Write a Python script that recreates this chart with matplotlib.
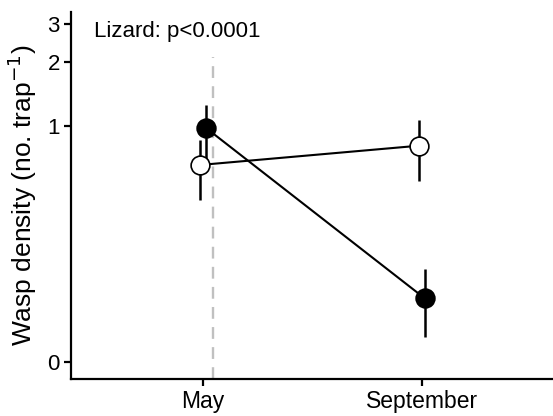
import numpy as np
import matplotlib
matplotlib.use("Agg")
import matplotlib.pyplot as plt

plt.rcParams['font.family'] = ['Liberation Sans', 'DejaVu Sans']

months = ["May", "September"]
# open circles (no lizard) and filled circles (lizard)
open_mean = [0.64, 0.80]
open_lo = [0.42, 0.53]
open_hi = [0.85, 1.07]
filled_mean = [0.98, 0.091]
filled_lo = [0.68, 0.029]
filled_hi = [1.26, 0.157]
y_ticks = [0, 1, 2, 3]
annot = "Lizard: p<0.0001"


def fwd(y):
    return np.log(np.asarray(y, dtype=float) + 0.1)


def inv(y):
    return np.exp(y) - 0.1


fig = plt.figure(figsize=(5.53, 4.16), dpi=100)
ax = fig.add_axes([0.1284, 0.0889, 0.8716, 0.882])
ax.set_yscale('function', functions=(fwd, inv))

x = np.arange(1, len(months) + 1)
dodge = 0.013

# dashed reference line, stops below the annotation
ax.axvline(1.046, ymax=0.877, color='#c0c0c0', lw=1.7, ls=(0, (5, 3.5)), zorder=1)

ax.plot(x - dodge, open_mean, color='black', lw=1.5, zorder=2)
ax.plot(x + dodge, filled_mean, color='black', lw=1.5, zorder=2)

ax.vlines(x + dodge, filled_lo, filled_hi, color='black', lw=1.8, zorder=3)
ax.vlines(x - dodge, open_lo, open_hi, color='black', lw=1.8, zorder=3)

ax.plot(x + dodge, filled_mean, 'o', ms=13.5, mfc='black', mec='black', mew=1.2,
        ls='none', zorder=4)
ax.plot(x - dodge, open_mean, 'o', ms=13.5, mfc='white', mec='black', mew=1.2,
        ls='none', zorder=5)

ax.set_xlim(0.397, 2.6)
ax.set_ylim(-0.016, 3.4)
ax.set_xticks(x)
ax.set_xticklabels(months, fontsize=16.5)
ax.set_yticks(y_ticks)
ax.set_yticklabels([str(t) for t in y_ticks], fontsize=16)
ax.minorticks_off()

for s in ['top', 'right']:
    ax.spines[s].set_visible(False)
for s in ['left', 'bottom']:
    ax.spines[s].set_linewidth(1.6)
ax.tick_params(width=1.6, length=5, pad=3, color='black')

ax.set_ylabel("Wasp density (no. trap$^{-1}$)", fontsize=19, labelpad=6)
ax.text(0.048, 0.975, annot, transform=ax.transAxes, fontsize=16,
        ha='left', va='top')

fig.savefig("out.png", dpi=100)
